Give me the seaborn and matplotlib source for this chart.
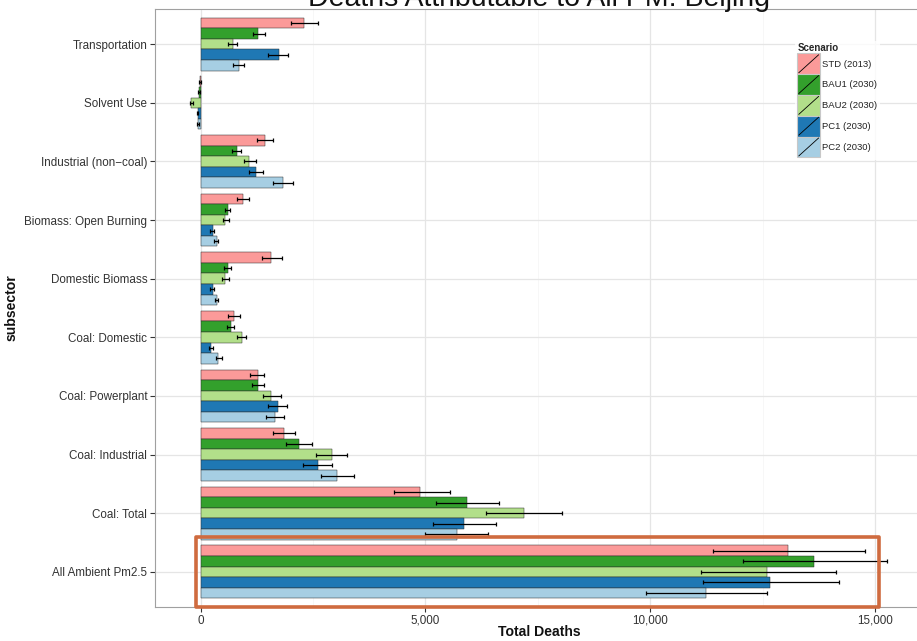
import numpy as np
import pandas as pd
import seaborn as sns
import matplotlib
matplotlib.use("Agg")
import matplotlib.pyplot as plt
from matplotlib.patches import Rectangle, Patch
from matplotlib.lines import Line2D
from matplotlib.legend_handler import HandlerPatch

# ---- data -------------------------------------------------------------
subsectors = [
    "Transportation", "Solvent Use", "Industrial (non\u2212coal)",
    "Biomass: Open Burning", "Domestic Biomass", "Coal: Domestic",
    "Coal: Powerplant", "Coal: Industrial", "Coal: Total",
    "All Ambient Pm2.5",
]
scenarios = ["STD (2013)", "BAU1 (2030)", "BAU2 (2030)", "PC1 (2030)", "PC2 (2030)"]

std_mean  = [2300,  -20, 1430, 935, 1566, 750, 1270, 1863, 4884, 13067]
std_lo    = [2010,  -40, 1247, 816, 1358, 615, 1098, 1618, 4290, 11403]
std_hi    = [2600,    0, 1617, 1083, 1804, 875, 1417, 2100, 5550, 14784]

bau1_mean = [1270,  -30, 816, 600, 600, 668, 1270, 2197, 5916, 13655]
bau1_lo   = [1160,  -50, 704, 541, 526, 593, 1136, 1900, 5245, 12060]
bau1_hi   = [1420,  -10, 898, 653, 668, 742, 1417, 2472, 6640, 15276]

bau2_mean = [727, -210, 1083, 541, 541, 913, 1566, 2918, 7194, 12606]
bau2_lo   = [615, -245, 965, 500, 480, 802, 1395, 2568, 6345, 11120]
bau2_hi   = [815, -170, 1232, 620, 630, 1009, 1782, 3265, 8042, 14136]

pc1_mean  = [1750,  -70, 1232, 267, 267, 223, 1715, 2620, 5853, 12659]
pc1_lo    = [1506,  -90, 1083, 207, 207, 192, 1506, 2285, 5163, 11183]
pc1_hi    = [1950,  -50, 1380, 296, 296, 267, 1929, 2918, 6566, 14198]

pc2_mean  = [853,  -60, 1840, 370, 356, 392, 1655, 3029, 5706, 11245]
pc2_lo    = [727,  -80, 1603, 296, 319, 341, 1455, 2680, 5000, 9904]
pc2_hi    = [965,  -40, 2050, 392, 392, 468, 1863, 3415, 6387, 12606]

means = [std_mean, bau1_mean, bau2_mean, pc1_mean, pc2_mean]
lows  = [std_lo, bau1_lo, bau2_lo, pc1_lo, pc2_lo]
highs = [std_hi, bau1_hi, bau2_hi, pc1_hi, pc2_hi]

x_ticks = [0, 5000, 10000, 15000]
x_tick_labels = ["0", "5,000", "10,000", "15,000"]

df = pd.DataFrame({
    "subsector": np.tile(subsectors, len(scenarios)),
    "Scenario": np.repeat(scenarios, len(subsectors)),
    "deaths": np.concatenate(means),
    "lo": np.concatenate(lows),
    "hi": np.concatenate(highs),
})

palette = {
    "STD (2013)": "#FB9A99",
    "BAU1 (2030)": "#33A02C",
    "BAU2 (2030)": "#B2DF8A",
    "PC1 (2030)": "#1F78B4",
    "PC2 (2030)": "#A6CEE3",
}

# ---- figure -----------------------------------------------------------
sns.set_theme(style="white")
plt.rcParams["font.family"] = ["Liberation Sans", "DejaVu Sans"]

W, H = 917, 641
fig = plt.figure(figsize=(W / 100, H / 100), dpi=100)
ax = fig.add_axes([155 / W, (H - 607) / H, (923 - 155) / W, 598 / H])

sns.barplot(
    data=df, x="deaths", y="subsector", hue="Scenario",
    order=subsectors, hue_order=scenarios, palette=palette,
    orient="h", width=0.9, errorbar=None, saturation=1,
    edgecolor="#2a2a2a", linewidth=0.35, legend=False, ax=ax, zorder=2,
)

# interval bars centred on each bar
bar_containers = list(ax.containers)
for k, cont in enumerate(bar_containers):
    sub = df[df["Scenario"] == scenarios[k]].set_index("subsector").loc[subsectors]
    for patch, lo, hi in zip(cont.patches, sub["lo"], sub["hi"]):
        yc = patch.get_y() + patch.get_height() / 2
        ax.errorbar([(lo + hi) / 2], [yc], xerr=[[(hi - lo) / 2], [(hi - lo) / 2]],
                    fmt="none", ecolor="black", elinewidth=0.9, capsize=1.4,
                    capthick=0.9, zorder=3)

ax.set_xlim(-1017, 16070)
ax.set_ylim(len(subsectors) - 0.4, -0.6)
ax.set_xticks(x_ticks)
ax.set_xticklabels(x_tick_labels)
ax.set_xticks([2500, 7500, 12500], minor=True)

ax.grid(True, which="major", color="#E5E5E5", linewidth=0.9, zorder=0)
ax.grid(True, which="minor", axis="x", color="#F7F7F7", linewidth=0.7, zorder=0)
ax.set_axisbelow(True)
for s in ax.spines.values():
    s.set_color("#A0A0A0")
    s.set_linewidth(0.8)

ax.tick_params(axis="both", which="major", length=3.5, width=0.8, color="#333333",
               labelsize=8.4, labelcolor="#333333", pad=2, left=True, bottom=True)
ax.tick_params(axis="both", which="minor", length=0)

ax.set_xlabel("Total Deaths", fontsize=10.1, fontweight="bold", color="#111111")
ax.set_ylabel("subsector", fontsize=10.1, fontweight="bold", color="#111111")
ax.xaxis.set_label_coords(0.5, -(625 - 607) / 598)
ax.yaxis.set_label_coords((19 - 155) / 768, 0.5)

fig.text(539 / W, 1 - 6 / H, "Deaths Attributable to All PM: Beijing",
         ha="center", va="baseline", fontsize=20.5, color="#111111")


# legend keys with the diagonal slash
class SlashKey(HandlerPatch):
    def create_artists(self, legend, orig_handle, xdescent, ydescent,
                       width, height, fontsize, trans):
        x0, y0 = -xdescent, -ydescent
        rect = Rectangle((x0, y0), width, height,
                         facecolor=orig_handle.get_facecolor(),
                         edgecolor="#C8C8C8", linewidth=0.8, transform=trans)
        line = Line2D([x0 + 1, x0 + width - 1], [y0 + 1, y0 + height - 1],
                      color="black", linewidth=0.6, transform=trans)
        return [rect, line]


leg_fs = 6.8
leg_px = leg_fs * 100 / 72
key_w, key_h = 22.7, 20.8
handles = [Patch(facecolor=palette[s], label=s) for s in scenarios]
leg = ax.legend(
    handles=handles, title="Scenario", loc="upper left",
    bbox_to_anchor=(795 / W, 1 - 41 / H), bbox_transform=fig.transFigure,
    handler_map={Patch: SlashKey()}, frameon=True, fontsize=leg_fs,
    title_fontsize=leg_fs + 0.2, handlelength=key_w / leg_px,
    handleheight=(key_h / leg_px - 0.245) / 0.65,
    labelspacing=0.0, handletextpad=0.25, borderpad=0.25, borderaxespad=0,
    alignment="left",
)
leg.get_frame().set_edgecolor("white")
leg.get_frame().set_facecolor("white")
leg.get_frame().set_linewidth(0)
leg.get_title().set_fontweight("bold")
for t in leg.get_texts():
    t.set_color("#222222")

# highlight box around the overall total
box = Rectangle((-95, 8.41), 15190, 1.19, fill=False, edgecolor="#CF6B3F",
                linewidth=2.6, joinstyle="round", clip_on=False, zorder=5)
ax.add_patch(box)

fig.savefig("out.png", dpi=100)
